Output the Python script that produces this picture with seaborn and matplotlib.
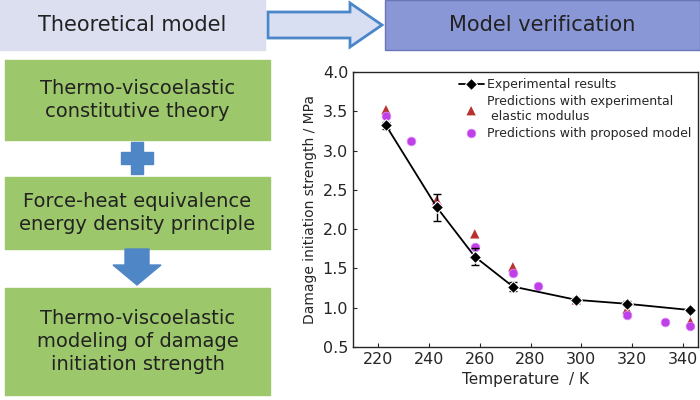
import numpy as np
import pandas as pd
import seaborn as sns
import matplotlib.pyplot as plt
from matplotlib.patches import FancyArrow, Rectangle

# data
temp_exp = [223, 243, 258, 273, 298, 318, 343]
strength_exp = [3.32, 2.28, 1.65, 1.27, 1.10, 1.05, 0.97]
err_exp = [0.04, 0.17, 0.11, 0.06, 0.02, 0.03, 0.02]

temp_tri = [223, 243, 258, 273, 298, 318, 343]
strength_tri = [3.52, 2.37, 1.94, 1.52, 1.10, 0.98, 0.82]

temp_model = [223, 233, 243, 258, 273, 283, 298, 318, 333, 343]
strength_model = [3.44, 3.12, 2.29, 1.77, 1.44, 1.28, 1.10, 0.91, 0.82, 0.77]

sns.set_style("ticks")
plt.rcParams['font.family'] = ['DejaVu Sans']

fig = plt.figure(figsize=(7, 4), dpi=100)
W, H = 700, 400

def box(x, y, w, h, color, text, size, edge=None):
    # x, y in pixel coords from top-left
    r = Rectangle((x / W, 1 - (y + h) / H), w / W, h / H, transform=fig.transFigure,
                  facecolor=color, edgecolor=edge or color, lw=1)
    fig.patches.append(r)
    fig.text((x + w / 2) / W, 1 - (y + h / 2) / H, text, ha='center', va='center',
             fontsize=size, color='#222222', linespacing=1.25)

box(0, 0, 265, 50, '#dcdff0', 'Theoretical model', 15)
box(385, 0, 315, 50, '#8a97d6', 'Model verification', 15, edge='#6a76b8')
box(5, 60, 265, 80, '#9cc76a', 'Thermo-viscoelastic\nconstitutive theory', 14)
box(5, 177, 265, 72, '#9cc76a', 'Force-heat equivalence\nenergy density principle', 14)
box(5, 288, 265, 107, '#9cc76a', 'Thermo-viscoelastic\nmodeling of damage\ninitiation strength', 14)

# right arrow
fig.patches.append(FancyArrow(268 / W, 1 - 25 / H, 82 / W, 0, width=26 / H, head_width=44 / H,
                              head_length=32 / W, transform=fig.transFigure,
                              facecolor='#d9dff2', edgecolor='#4a86c8', lw=2))
# plus sign
fig.patches.append(Rectangle((121 / W, 1 - 164 / H), 32 / W, 12 / H,
                             transform=fig.transFigure, color='#4f86c6'))
fig.patches.append(Rectangle((131 / W, 1 - 174 / H), 12 / W, 32 / H,
                             transform=fig.transFigure, color='#4f86c6'))
# down arrow
fig.patches.append(FancyArrow(137 / W, 1 - 249 / H, 0, -36 / H, width=24 / W, head_width=48 / W,
                              head_length=20 / H, transform=fig.transFigure,
                              color='#4f86c6', length_includes_head=True))

ax = fig.add_axes([353 / W, 1 - 347 / H, 345 / W, 275 / H])
ax.errorbar(temp_exp, strength_exp, yerr=err_exp, fmt='none', ecolor='black', capsize=3, lw=1)
sns.lineplot(x=temp_exp, y=strength_exp, ax=ax, color='black', marker='D', markersize=6,
             lw=1.3, label='Experimental results')
sns.scatterplot(x=temp_tri, y=strength_tri, ax=ax, marker='^', color='#b8312f', s=45,
                edgecolor='none', label='Predictions with experimental\n elastic modulus')
sns.scatterplot(x=temp_model, y=strength_model, ax=ax, marker='o', color='#c040e8', s=40,
                edgecolor='#e090ff', label='Predictions with proposed model')

ax.set_xlim(210, 346)
ax.set_ylim(0.5, 4.0)
ax.set_xticks([220, 240, 260, 280, 300, 320, 340])
ax.set_yticks(np.arange(0.5, 4.01, 0.5))
ax.tick_params(labelsize=11.5, direction='in', length=3)
ax.set_xlabel('Temperature  / K', fontsize=11)
ax.set_ylabel('Damage initiation strength / MPa', fontsize=10)
for s in ax.spines.values():
    s.set_linewidth(1)
ax.legend(loc='upper right', frameon=False, fontsize=9, handletextpad=0.3,
          borderaxespad=0.1, labelspacing=0.3)

fig.savefig('out.png', dpi=100)
